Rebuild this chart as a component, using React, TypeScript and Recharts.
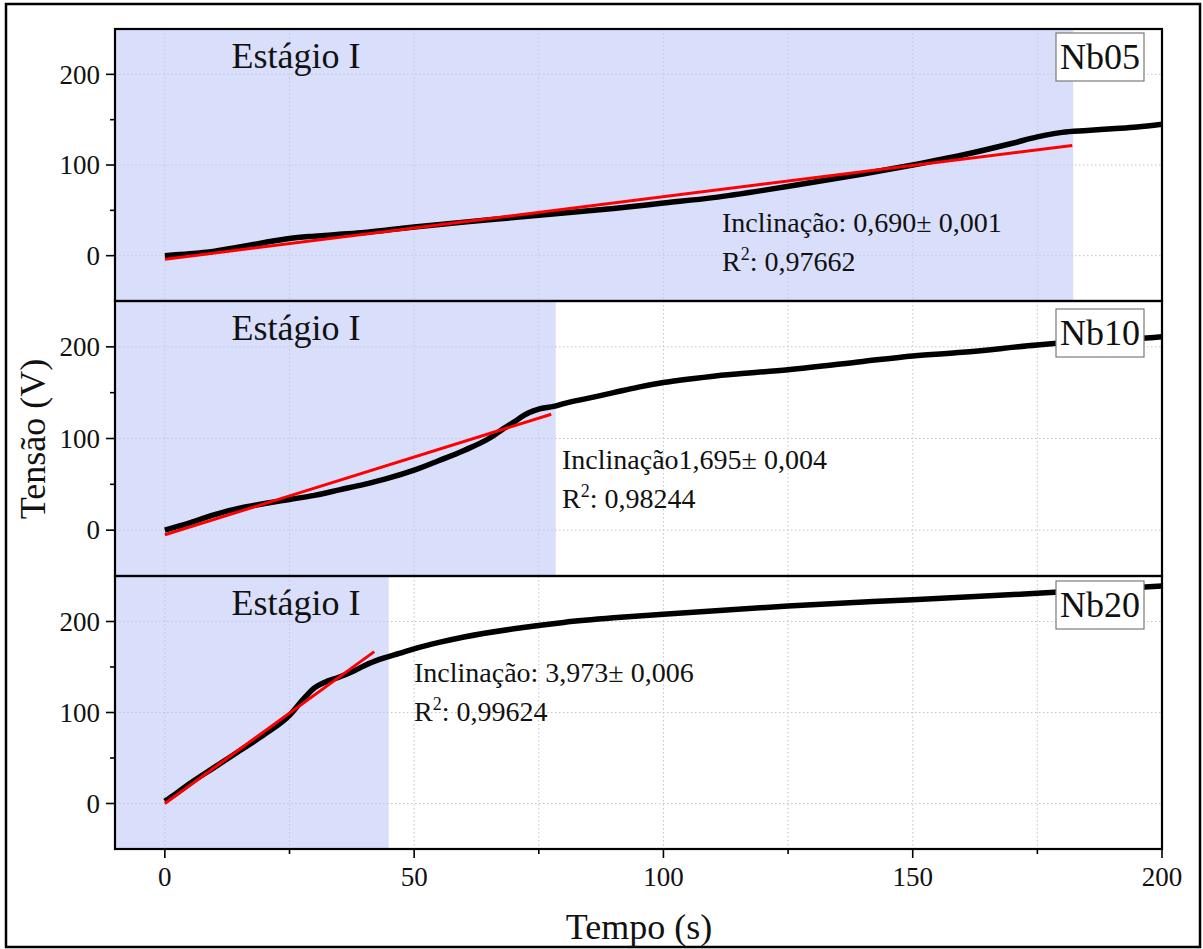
import React from 'react';
import { LineChart, Line, XAxis, YAxis, CartesianGrid, ReferenceArea } from 'recharts';

const FONT = '"Times New Roman", "Liberation Serif", serif';

// ---- data ----
const nb05Time = [0, 5, 10, 15, 20, 25, 30, 35, 40, 45, 50, 60, 70, 80, 90, 100, 110, 120, 130, 140, 150, 160, 170, 175, 180, 185, 190, 195, 200];
const nb05Tension = [0, 2, 5, 9.5, 14.5, 19, 21.5, 23.5, 25.5, 28.5, 31.5, 37, 42, 47, 52, 58, 64, 72, 81, 90, 100, 111, 124, 131, 136, 138, 140, 142, 145];
const nb05FitTime = [0, 182];
const nb05FitTension = [-4, 121.6];

const nb10Time = [0, 5, 10, 15, 20, 25, 30, 35, 40, 45, 50, 55, 60, 65, 68, 70, 73, 75, 78, 80, 85, 90, 95, 100, 110, 125, 140, 150, 160, 175, 185, 190, 200];
const nb10Tension = [0, 8, 17, 24, 29, 33.5, 38, 44, 50, 57, 65.5, 76, 87, 100, 111, 118, 128, 132, 135, 138, 144, 150, 156, 161, 168, 175, 184, 190, 194, 202, 206, 207, 211];
const nb10FitTime = [0, 77.5];
const nb10FitTension = [-5, 126.4];

const nb20Time = [0, 2, 5, 10, 15, 20, 25, 28, 30, 32, 35, 38, 41, 44, 47, 50, 55, 60, 70, 80, 90, 100, 125, 150, 175, 200];
const nb20Tension = [2.5, 10, 22, 40, 58, 76, 97, 116, 127, 133, 139, 146, 154, 160, 165, 170, 177, 183, 192, 199, 204, 208, 217, 224, 231, 239];
const nb20FitTime = [0, 42];
const nb20FitTension = [0, 166.9];

const sampleNames = ['Nb05', 'Nb10', 'Nb20'];
const slopeTexts = ['Inclinação: 0,690± 0,001', 'Inclinação1,695± 0,004', 'Inclinação: 3,973± 0,006'];
const r2Texts = [': 0,97662', ': 0,98244', ': 0,99624'];
const stageEnds = [182.2, 78.4, 44.9];
const stageLabel = 'Estágio I';
const xTicks = [0, 25, 50, 75, 100, 125, 150, 175, 200];
const xGrid = [0, 25, 50, 75, 100, 125, 150, 175];
const yTicks = [0, 50, 100, 150, 200];
const yGrid = [0, 100, 200];
const xDomain = [-10, 200];
const yDomain = [-50, 250];
const xTitle = 'Tempo (s)';
const yTitle = 'Tensão (V)';

const zip = (xs: number[], ys: number[]) => xs.map((x, i) => ({ x, y: ys[i] }));

const series = [
  { black: zip(nb05Time, nb05Tension), red: zip(nb05FitTime, nb05FitTension) },
  { black: zip(nb10Time, nb10Tension), red: zip(nb10FitTime, nb10FitTension) },
  { black: zip(nb20Time, nb20Tension), red: zip(nb20FitTime, nb20FitTension) },
];

// ---- layout ----
const W = 1203;
const H = 949;
const PLOT_L = 115;
const PLOT_R = 1162;
const panelTops = [29, 301, 576];
const panelHeights = [272, 275, 273];
const boxOffsets = [4, 8, 5];
const annot = [
  { x: 722, y1: 232, y2: 271 },
  { x: 562, y1: 469, y2: 508 },
  { x: 414, y1: 682, y2: 721 },
];
const XAXIS_H = 100;

const YTick = (props: any) => {
  const { x, y, payload } = props;
  const major = payload.value % 100 === 0;
  return (
    <g>
      <line x1={x} x2={x - (major ? 9 : 5)} y1={y} y2={y} stroke="#000" strokeWidth={1.6} />
      {major && (
        <text x={x - 15} y={y} dy="0.34em" textAnchor="end" fontSize={27} fontFamily={FONT} fill="#111">
          {payload.value}
        </text>
      )}
    </g>
  );
};

const XTick = (props: any) => {
  const { x, y, payload } = props;
  const major = payload.value % 50 === 0;
  return (
    <g>
      <line x1={x} x2={x} y1={y} y2={y + (major ? 9 : 5)} stroke="#000" strokeWidth={1.6} />
      {major && (
        <text x={x} y={y + 37} textAnchor="middle" fontSize={27} fontFamily={FONT} fill="#111">
          {payload.value}
        </text>
      )}
    </g>
  );
};

function Panel({ i }: { i: number }) {
  const last = i === 2;
  const h = panelHeights[i] + (last ? XAXIS_H : 0);
  return (
    <div style={{ position: 'absolute', left: 0, top: panelTops[i] }}>
      <LineChart width={W} height={h} margin={{ top: 0, right: W - PLOT_R, bottom: 0, left: 0 }}>
        <ReferenceArea
          x1={xDomain[0]}
          x2={stageEnds[i]}
          y1={yDomain[0]}
          y2={yDomain[1]}
          fill="#c0c9f9"
          fillOpacity={0.6}
          stroke="none"
        />
        <CartesianGrid
          stroke="#c4c4c4"
          strokeDasharray="1.5 2.5"
          horizontalValues={yGrid}
          verticalValues={xGrid}
        />
        <XAxis
          type="number"
          dataKey="x"
          domain={xDomain}
          ticks={xTicks}
          interval={0}
          hide={!last}
          height={last ? XAXIS_H : 0}
          tickSize={0}
          tickMargin={0}
          axisLine={false}
          tick={XTick}
          allowDataOverflow
        />
        <YAxis
          type="number"
          domain={yDomain}
          ticks={yTicks}
          interval={0}
          width={PLOT_L}
          tickSize={0}
          tickMargin={0}
          axisLine={false}
          tick={YTick}
          allowDataOverflow
        />
        <Line
          data={series[i].black}
          dataKey="y"
          type="monotone"
          stroke="#000"
          strokeWidth={5.5}
          dot={false}
          isAnimationActive={false}
        />
        <Line
          data={series[i].red}
          dataKey="y"
          type="linear"
          stroke="#ff0000"
          strokeWidth={3}
          dot={false}
          isAnimationActive={false}
        />
      </LineChart>
    </div>
  );
}

export default function App() {
  return (
    <div style={{ position: 'absolute', left: 0, top: 0, width: W, height: H, background: '#fff', overflow: 'hidden' }}>
      {[0, 1, 2].map((i) => (
        <Panel key={i} i={i} />
      ))}
      <svg width={W} height={H} style={{ position: 'absolute', left: 0, top: 0, pointerEvents: 'none' }}>
        <rect x={6} y={4} width={1194} height={943} fill="none" stroke="#000" strokeWidth={2.5} />
        {[0, 1, 2].map((i) => {
          const top = panelTops[i];
          const bTop = top + boxOffsets[i];
          return (
            <g key={i}>
              <rect x={PLOT_L} y={top} width={PLOT_R - PLOT_L} height={panelHeights[i]} fill="none" stroke="#000" strokeWidth={2.2} />
              <text x={296} y={top + 38.5} textAnchor="middle" fontSize={36} fontFamily={FONT} fill="#111">
                {stageLabel}
              </text>
              <rect x={1056} y={bTop} width={88} height={48} fill="#fff" stroke="#7a7a7a" strokeWidth={1.2} />
              <text x={1100} y={bTop + 36} textAnchor="middle" fontSize={36} fontFamily={FONT} fill="#111">
                {sampleNames[i]}
              </text>
              <text x={annot[i].x} y={annot[i].y1} fontSize={28} fontFamily={FONT} fill="#111">
                {slopeTexts[i]}
              </text>
              <text x={annot[i].x} y={annot[i].y2} fontSize={28} fontFamily={FONT} fill="#111">
                R
                <tspan fontSize={18} dy={-11}>2</tspan>
                <tspan dy={11}>{r2Texts[i]}</tspan>
              </text>
            </g>
          );
        })}
        <text x={639} y={939} textAnchor="middle" fontSize={36} fontFamily={FONT} fill="#111">
          {xTitle}
        </text>
        <text
          x={0}
          y={0}
          transform={`translate(45, 439) rotate(-90)`}
          textAnchor="middle"
          fontSize={36}
          fontFamily={FONT}
          fill="#111"
        >
          {yTitle}
        </text>
      </svg>
    </div>
  );
}
